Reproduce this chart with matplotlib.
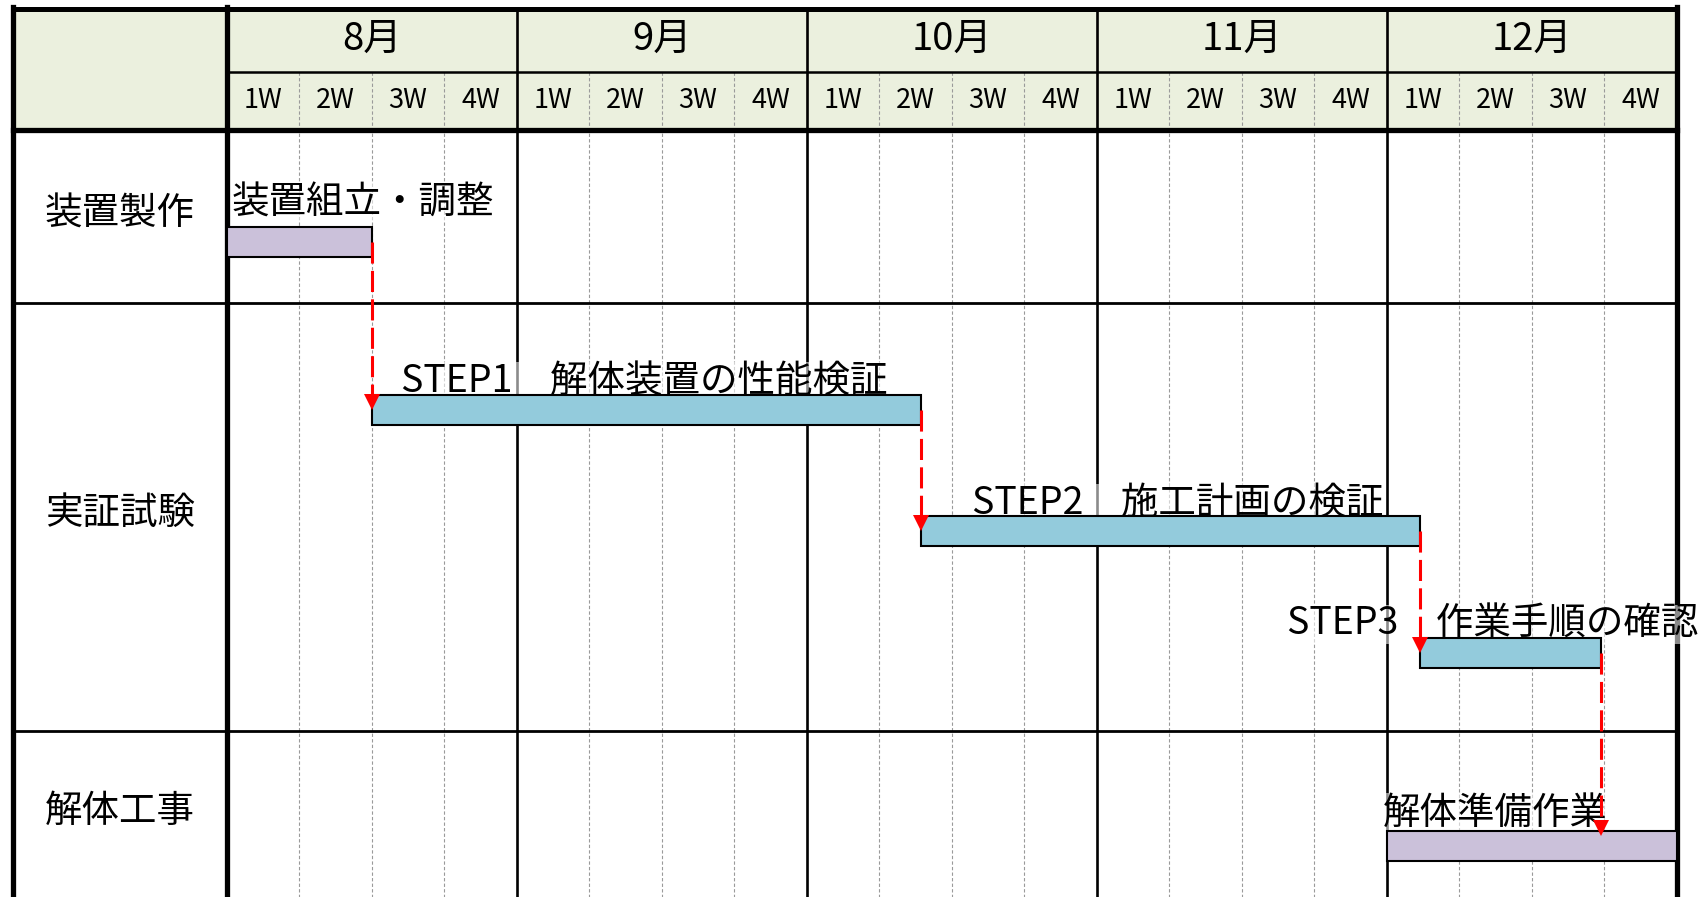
import matplotlib
matplotlib.use('Agg')
import matplotlib.pyplot as plt
from matplotlib.patches import Rectangle

plt.rcParams['font.family'] = ['Noto Sans CJK JP', 'DejaVu Sans']

# ---- data ----
months = ['8月', '9月', '10月', '11月', '12月']
week_labels = ['1W', '2W', '3W', '4W']
categories = ['装置製作', '実証試験', '解体工事']

task_names = ['装置組立・調整',
              'STEP1\u3000解体装置の性能検証',
              'STEP2\u3000施工計画の検証',
              'STEP3\u3000作業手順の確認',
              '解体準備作業']
task_start = [0, 2, 9.57, 16.46, 16]      # weeks counted from 8月 1W
task_end = [2, 9.57, 16.46, 18.95, 20]
task_kind = ['prep', 'test', 'test', 'test', 'prep']
links = [(0, 1), (1, 2), (2, 3), (3, 4)]

# ---- layout (figure pixels, y from top) ----
W, H = 1707, 897
X0, PXW = 226.7, 72.5          # x of week 0, pixels per week
LEFT = 13
TOP, MONTH_BOT, HEAD_BOT = 9.5, 72, 130.5
row_edges = [302.7, 731.3]
cat_y = [214, 513, 811]
lane_y = [242.5, 410, 531.5, 653, 846.5]
BAR_H = 30
label_dx = [0.07, 0.41, 0.71, -1.84, -0.06]
label_lift = [14, 2.5, 2.5, 3, 8]
tip_gap = [15, 15, 15, 5]

colors = {'prep': '#CBC1DA', 'test': '#93CBDC'}
HEAD_BG = '#EBF0DE'


def wx(px):
    return (px - X0) / PXW


n_weeks = len(months) * len(week_labels)

fig = plt.figure(figsize=(W / 100, H / 100), dpi=100)
ax = fig.add_axes([0, 0, 1, 1])
ax.set_xlim(wx(0), wx(W))
ax.set_ylim(H, 0)
ax.axis('off')

# header background
ax.add_patch(Rectangle((wx(LEFT), TOP), n_weeks - wx(LEFT), HEAD_BOT - TOP,
                       facecolor=HEAD_BG, edgecolor='none', zorder=0))

# week grid (dashed) and month separators
for w in range(1, n_weeks):
    if w % 4:
        ax.plot([w, w], [MONTH_BOT, H], color='#9a9a9a', lw=0.8,
                ls=(0, (3, 2)), zorder=1)
    else:
        ax.plot([w, w], [TOP, H], color='black', lw=1.9, zorder=3)

# frame
ax.plot([wx(LEFT), wx(LEFT)], [TOP - 2, H], color='black', lw=3.8, zorder=3)
ax.plot([0, 0], [TOP - 2, H], color='black', lw=3.8, zorder=3)
ax.plot([n_weeks, n_weeks], [TOP - 2, H], color='black', lw=3.8, zorder=3)
ax.plot([wx(LEFT), n_weeks], [TOP, TOP], color='black', lw=3.6, zorder=3)
ax.plot([0, n_weeks], [MONTH_BOT, MONTH_BOT], color='black', lw=1.8, zorder=3)
ax.plot([wx(LEFT), n_weeks], [HEAD_BOT, HEAD_BOT], color='black', lw=3.8, zorder=3)
for y in row_edges:
    ax.plot([wx(LEFT), n_weeks], [y, y], color='black', lw=2.0, zorder=3)

# header labels
for i, m in enumerate(months):
    ax.text(i * 4 + 2, (TOP + MONTH_BOT) / 2 - 1, m, ha='center', va='center',
            fontsize=27.5, zorder=5)
    for j, wl in enumerate(week_labels):
        ax.text(i * 4 + j + 0.5, (MONTH_BOT + HEAD_BOT) / 2 - 1, wl,
                ha='center', va='center', fontsize=19.5, zorder=5)

# category labels
for c, y in zip(categories, cat_y):
    ax.text(wx(LEFT) / 2, y, c, ha='center', va='center', fontsize=27, zorder=5)

# bars and labels (labels sit under the bars so their boxes never cover a bar)
for i, name in enumerate(task_names):
    top = lane_y[i] - BAR_H / 2
    ax.add_patch(Rectangle((task_start[i], top), task_end[i] - task_start[i], BAR_H,
                           facecolor=colors[task_kind[i]], edgecolor='black',
                           lw=1.5, zorder=4))
    ax.text(task_start[i] + label_dx[i], top - label_lift[i], name,
            ha='left', va='baseline', fontsize=27, zorder=3.5,
            bbox=dict(facecolor='white', alpha=0.55, edgecolor='none', pad=0))

# dependency arrows
for k, (a, b) in enumerate(links):
    x = task_end[a]
    y0 = lane_y[a]
    tip = lane_y[b] - BAR_H / 2 + tip_gap[k]
    ax.plot([x, x], [y0, tip - 15], color='red', lw=2.2,
            ls=(0, (6.9, 2.4)), zorder=6)
    ax.plot([x], [tip - 8], marker='v', ms=12, color='red',
            markeredgewidth=0, zorder=6)

fig.savefig('out.png', dpi=100)
